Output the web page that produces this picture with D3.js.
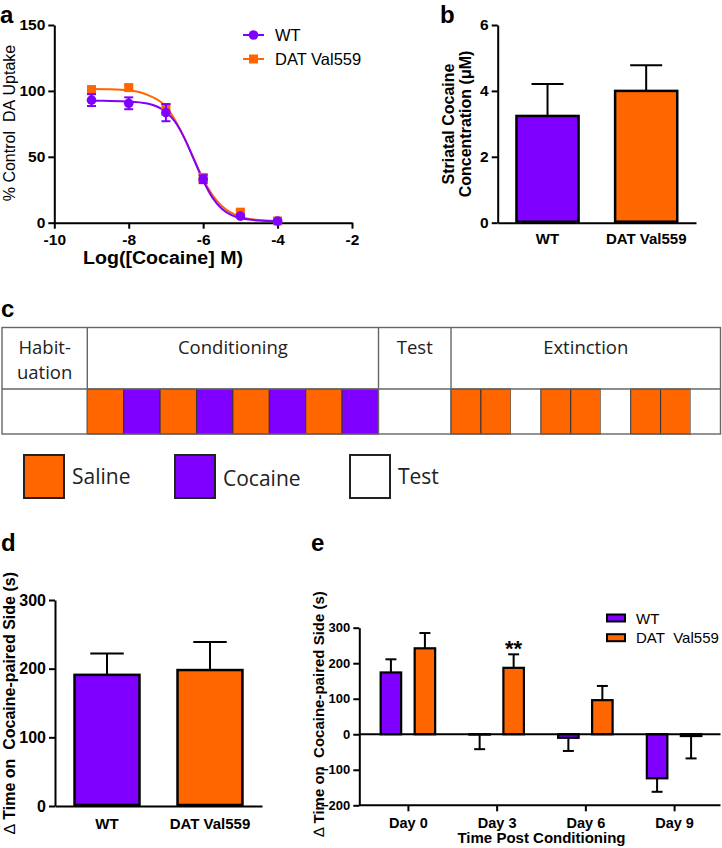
<!DOCTYPE html>
<html><head><meta charset="utf-8">
<script src="https://cdn.jsdelivr.net/npm/d3@7/dist/d3.min.js"></script>
<style>
body{margin:0;background:#fff;}
svg{display:block;}
</style></head>
<body><svg id="c" width="722" height="848"></svg>
<script>
// ---------------- DATA ----------------
const groups = ["WT", "DAT Val559"];
const purple = "#7F00FF", orange = "#FF6600";

// Panel a: dose response
const logDose = [-9, -8, -7, -6, -5, -4];
const wtUptake = [93, 90.6, 83.5, 33, 5, 1.2];
const wtUptakeErr = [4.5, 4.5, 6.5, 3, 1, 0.8];
const datUptake = [101, 102.5, 86, 34, 8, 1.3];
const datUptakeErr = [2, 2, 4, 3, 1.5, 0.8];
// fitted curves
const curveX = [-9, -8.5, -8, -7.5, -7, -6.75, -6.5, -6.25, -6, -5.75, -5.5, -5.25, -5, -4.5, -4];
const wtCurve = [92.5, 92.4, 92, 90.4, 84, 76.4, 64, 48, 32, 19, 10.6, 6, 3.5, 1.6, 1.1];
const datCurve = [101.5, 101.3, 100.5, 97, 88, 77.5, 64, 48.5, 33, 21, 12.7, 7.6, 4.6, 2, 1.3];
const aXTicks = [-10, -8, -6, -4, -2];
const aYTicks = [0, 50, 100, 150];

// Panel b: striatal cocaine concentration
const concMean = [3.24, 4.0];
const concErr = [0.97, 0.78];
const bYTicks = [0, 2, 4, 6];

// Panel c: schedule
const phaseNames = [["Habit-", "uation"], ["Conditioning"], ["Test"], ["Extinction"]];
const phaseSessions = [
  ["Test"],
  ["Saline", "Cocaine", "Saline", "Cocaine", "Saline", "Cocaine", "Saline", "Cocaine"],
  ["Test"],
  ["Saline", "Saline", "Test", "Saline", "Saline", "Test", "Saline", "Saline", "Test"]
];
const sessionTypes = ["Saline", "Cocaine", "Test"];

// Panel d: delta time
const dMean = [191, 198];
const dErr = [31, 41];
const dYTicks = [0, 100, 200, 300];

// Panel e: time course
const days = ["Day 0", "Day 3", "Day 6", "Day 9"];
const eWT = [174, -1, -10, -124];
const eWTErr = [37, 41, 37, 38];
const eDAT = [242, 187, 96, -5];
const eDATErr = [43, 38, 40, 63];
const eYTicks = [-200, -100, 0, 100, 200, 300];
const eSig = ["", "**", "", ""];

// ---------------- DRAWING ----------------
const svg = d3.select("#c");
svg.append("rect").attr("width", 722).attr("height", 848).attr("fill", "#fff");
const ARIAL = "'Liberation Sans', Arial, sans-serif";
const SEGOE = "'Open Sans', 'Noto Sans', sans-serif";
const colorOf = {"WT": purple, "DAT Val559": orange, "Saline": orange, "Cocaine": purple, "Test": "#fff"};
const NB = "\u00A0";

function panelLetter(t, x, y) {
  svg.append("text").attr("x", x).attr("y", y).text(t)
    .attr("font-family", ARIAL).attr("font-weight", "bold").attr("font-size", 24).attr("fill", "#000");
}
function styleAxis(g, fs) {
  g.select(".domain").attr("stroke", "#000").attr("stroke-width", 2);
  g.selectAll(".tick line").attr("stroke", "#000").attr("stroke-width", 2);
  g.selectAll(".tick text").attr("font-family", ARIAL).attr("font-weight", "bold")
    .attr("font-size", fs).attr("fill", "#000");
}
function yTitle(lines, x, y, fs, weight, gap) {
  const t = svg.append("text").attr("transform", `translate(${x},${y}) rotate(-90)`)
    .attr("text-anchor", "middle").attr("font-family", ARIAL).attr("font-weight", weight)
    .attr("font-size", fs).attr("fill", "#000");
  lines.forEach((l, i) => t.append("tspan").attr("x", 0).attr("dy", i === 0 ? 0 : gap).text(l));
  return t;
}

// ===== Panel a =====
{
  const x = d3.scaleLinear().domain([-10, -2]).range([54.3, 352]);
  const y = d3.scaleLinear().domain([0, 150]).range([222.7, 25]);
  panelLetter("a", 0, 23);
  const gy = svg.append("g").attr("transform", `translate(${x.range()[0]},0)`)
    .call(d3.axisLeft(y).tickValues(aYTicks).tickSize(6).tickSizeOuter(0).tickPadding(3));
  styleAxis(gy, 15.5);
  const gx = svg.append("g").attr("transform", `translate(0,${y(0)})`)
    .call(d3.axisBottom(x).tickValues(aXTicks).tickSize(6).tickSizeOuter(0).tickPadding(5).tickFormat(d => (d < 0 ? "-" : "") + Math.abs(d)));
  styleAxis(gx, 15.5);
  svg.append("text").attr("x", 163).attr("y", 264).attr("text-anchor", "middle")
    .attr("font-family", ARIAL).attr("font-weight", "bold").attr("font-size", 18)
    .attr("textLength", 160).attr("lengthAdjust", "spacingAndGlyphs")
    .text("Log([Cocaine] M)");
  yTitle(["%" + NB + "Control" + NB + NB + "DA" + NB + "Uptake"], 15, 123, 16, "normal", 0);

  const line = d3.line().x(d => x(d[0])).y(d => y(d[1])).curve(d3.curveMonotoneX);
  const series = [
    {name: "DAT Val559", c: orange, m: datUptake, e: datUptakeErr, cv: datCurve, shape: "sq"},
    {name: "WT", c: purple, m: wtUptake, e: wtUptakeErr, cv: wtCurve, shape: "ci"}
  ];
  series.forEach(s => {
    svg.append("path").datum(curveX.map((v, i) => [v, s.cv[i]])).attr("d", line)
      .attr("fill", "none").attr("stroke", s.c).attr("stroke-width", 2);
  });
  series.forEach(s => {
    const g = svg.append("g");
    logDose.forEach((d, i) => {
      const cx = x(d), lo = y(s.m[i] - s.e[i]), hi = y(s.m[i] + s.e[i]);
      g.append("line").attr("x1", cx).attr("x2", cx).attr("y1", lo).attr("y2", hi).attr("stroke", s.c).attr("stroke-width", 2);
      [lo, hi].forEach(yy => g.append("line").attr("x1", cx - 4.5).attr("x2", cx + 4.5).attr("y1", yy).attr("y2", yy).attr("stroke", s.c).attr("stroke-width", 2));
      if (s.shape === "sq") g.append("rect").attr("x", cx - 4.5).attr("y", y(s.m[i]) - 4.5).attr("width", 9).attr("height", 9).attr("fill", s.c);
      else g.append("circle").attr("cx", cx).attr("cy", y(s.m[i])).attr("r", 4.8).attr("fill", s.c);
    });
  });
  // legend
  const leg = [{name: "WT", c: purple, shape: "ci"}, {name: "DAT Val559", c: orange, shape: "sq"}];
  leg.forEach((l, i) => {
    const ly = 35 + i * 24;
    svg.append("line").attr("x1", 243).attr("x2", 264).attr("y1", ly).attr("y2", ly).attr("stroke", l.c).attr("stroke-width", 2);
    if (l.shape === "sq") svg.append("rect").attr("x", 249).attr("y", ly - 4.5).attr("width", 9).attr("height", 9).attr("fill", l.c);
    else svg.append("circle").attr("cx", 253.5).attr("cy", ly).attr("r", 4.8).attr("fill", l.c);
    svg.append("text").attr("x", 275).attr("y", ly + 6).text(l.name)
      .attr("font-family", ARIAL).attr("font-size", 16.5).attr("fill", "#000");
  });
}

// ===== generic two-bar panel =====
function twoBar(opts) {
  const x = d3.scaleBand().domain(groups).range(opts.xr).paddingInner(0.35).paddingOuter(0.18);
  const y = d3.scaleLinear().domain(opts.yd).range(opts.yr);
  const gy = svg.append("g").attr("transform", `translate(${opts.xr[0]},0)`)
    .call(d3.axisLeft(y).tickValues(opts.ticks).tickSize(6).tickSizeOuter(0).tickPadding(3).tickFormat(d3.format("d")));
  styleAxis(gy, opts.tfs);
  const gx = svg.append("g").attr("transform", `translate(0,${opts.yr[0]})`)
    .call(d3.axisBottom(x).tickSize(0).tickSizeOuter(0).tickPadding(opts.lp));
  styleAxis(gx, opts.lfs);
  groups.forEach((gname, i) => {
    const bx = x(gname), bw = x.bandwidth(), cx = bx + bw / 2;
    svg.append("line").attr("x1", cx).attr("x2", cx).attr("y1", y(opts.mean[i])).attr("y2", y(opts.mean[i] + opts.err[i]))
      .attr("stroke", "#000").attr("stroke-width", 2);
    svg.append("line").attr("x1", cx - bw / 4).attr("x2", cx + bw / 4)
      .attr("y1", y(opts.mean[i] + opts.err[i])).attr("y2", y(opts.mean[i] + opts.err[i]))
      .attr("stroke", "#000").attr("stroke-width", 2);
    svg.append("rect").attr("x", bx + 1).attr("y", y(opts.mean[i])).attr("width", bw - 2)
      .attr("height", y(0) - y(opts.mean[i]) - 1).attr("fill", colorOf[gname])
      .attr("stroke", "#000").attr("stroke-width", 2.5);
  });
  gx.raise();
}

// ===== Panel b =====
panelLetter("b", 440, 23);
twoBar({xr: [497.7, 696], yd: [0, 6], yr: [222.7, 25], ticks: bYTicks, mean: concMean, err: concErr, tfs: 15.5, lfs: 15, lp: 11});
yTitle(["Striatal" + NB + "Cocaine", "Concentration" + NB + "(\u03BCM)"], 454, 124, 16, "bold", 17);

// ===== Panel c =====
{
  panelLetter("c", 1, 317);
  const edges = [2, 87.3, 378.5, 451, 720.5];
  const top = 327.5, mid = 389, bot = 434;
  const g = svg.append("g");
  phaseSessions.forEach((ses, p) => {
    const sx = d3.scaleBand().domain(d3.range(ses.length)).range([edges[p], edges[p + 1]]);
    ses.forEach((s, i) => {
      g.append("rect").attr("x", sx(i)).attr("y", mid).attr("width", sx.bandwidth()).attr("height", bot - mid)
        .attr("fill", colorOf[s]).attr("stroke", s === "Test" ? "none" : "#333").attr("stroke-width", 1);
    });
    const names = phaseNames[p];
    const cx = (edges[p] + edges[p + 1]) / 2;
    names.forEach((n, k) => {
      g.append("text").attr("x", cx).attr("y", 354 + k * 24.5).attr("text-anchor", "middle").text(n)
        .attr("font-family", SEGOE).attr("font-size", 18.5).attr("fill", "#222");
    });
  });
  // grid lines
  g.append("rect").attr("x", edges[0]).attr("y", top).attr("width", edges[4] - edges[0]).attr("height", bot - top)
    .attr("fill", "none").attr("stroke", "#666").attr("stroke-width", 1.4);
  g.append("line").attr("x1", edges[0]).attr("x2", edges[4]).attr("y1", mid).attr("y2", mid).attr("stroke", "#666").attr("stroke-width", 1.4);
  edges.slice(1, 4).forEach(e => g.append("line").attr("x1", e).attr("x2", e).attr("y1", top).attr("y2", bot).attr("stroke", "#666").attr("stroke-width", 1.4));
  // legend
  const lx = [24, 175, 350];
  sessionTypes.forEach((s, i) => {
    g.append("rect").attr("x", lx[i]).attr("y", 455).attr("width", 40).attr("height", 43)
      .attr("fill", colorOf[s]).attr("stroke", "#222").attr("stroke-width", 2);
    g.append("text").attr("x", lx[i] + 48).attr("y", 484 + (i === 1 ? 1.5 : 0)).text(s)
      .attr("font-family", SEGOE).attr("font-size", 21).attr("fill", "#222");
  });
}

// ===== Panel d =====
panelLetter("d", 1, 551);
twoBar({xr: [55, 262], yd: [0, 300], yr: [806, 600], ticks: dYTicks, mean: dMean, err: dErr, tfs: 16, lfs: 15, lp: 12});
{
  const t = yTitle([""], 15, 703, 16, "bold", 0);
  t.select("tspan").text(null);
  t.append("tspan").attr("font-weight", "normal").text("\u2206" + NB);
  t.append("tspan").text("Time" + NB + "on" + NB + NB + "Cocaine-paired" + NB + "Side" + NB + "(s)");
}

// ===== Panel e =====
{
  panelLetter("e", 311, 551);
  const x = d3.scalePoint().domain(days).range([360, 722]).padding(0.54);
  const y = d3.scaleLinear().domain([-200, 300]).range([805.3, 627.7]);
  const off = 17, bw = 20.5;
  const gy = svg.append("g").attr("transform", `translate(359.3,0)`)
    .call(d3.axisLeft(y).tickValues(eYTicks).tickSize(6).tickSizeOuter(0).tickPadding(3));
  styleAxis(gy, 13);
  const gx = svg.append("g").attr("transform", `translate(0,${y(-200)})`)
    .call(d3.axisBottom(x).tickSize(6).tickSizeOuter(0).tickPadding(6));
  styleAxis(gx, 14.5);
  gx.select(".domain").attr("d", `M359.3,0H720.5`);
  const ser = [{m: eWT, e: eWTErr, c: purple, o: -off}, {m: eDAT, e: eDATErr, c: orange, o: off}];
  ser.forEach(s => {
    days.forEach((d, i) => {
      const cx = x(d) + s.o, v = s.m[i], ev = v >= 0 ? v + s.e[i] : v - s.e[i];
      svg.append("line").attr("x1", cx).attr("x2", cx).attr("y1", y(v)).attr("y2", y(ev)).attr("stroke", "#000").attr("stroke-width", 2);
      svg.append("line").attr("x1", cx - 5.5).attr("x2", cx + 5.5).attr("y1", y(ev)).attr("y2", y(ev)).attr("stroke", "#000").attr("stroke-width", 2);
      svg.append("rect").attr("x", cx - bw / 2).attr("y", Math.min(y(v), y(0))).attr("width", bw)
        .attr("height", Math.abs(y(v) - y(0))).attr("fill", s.c).attr("stroke", "#000").attr("stroke-width", 2.2);
    });
  });
  svg.append("line").attr("x1", 359.3).attr("x2", 720.5).attr("y1", y(0)).attr("y2", y(0)).attr("stroke", "#000").attr("stroke-width", 2);
  days.forEach((d, i) => {
    if (eSig[i]) svg.append("text").attr("x", x(d) + off).attr("y", y(eDAT[i] + eDATErr[i]) + 1.5).attr("text-anchor", "middle")
      .text(eSig[i]).attr("font-family", ARIAL).attr("font-weight", "bold").attr("font-size", 22);
  });
  svg.append("text").attr("x", 541.5).attr("y", 843).attr("text-anchor", "middle")
    .attr("font-family", ARIAL).attr("font-weight", "bold").attr("font-size", 15).text("Time Post Conditioning");
  const t = yTitle([""], 324, 714, 15, "bold", 0);
  t.select("tspan").text(null);
  t.append("tspan").attr("font-weight", "normal").text("\u2206" + NB);
  t.append("tspan").text("Time" + NB + "on" + NB + NB + "Cocaine-paired" + NB + "Side" + NB + "(s)");
  // legend
  const legNames = ["WT", "DAT" + NB + NB + "Val559"];
  [purple, orange].forEach((c, i) => {
    const ly = 618 + i * 19.7;
    svg.append("rect").attr("x", 607).attr("y", ly - 3.5).attr("width", 18).attr("height", 7)
      .attr("fill", c).attr("stroke", "#000").attr("stroke-width", 2);
    svg.append("text").attr("x", 636).attr("y", ly + 5.5).text(legNames[i])
      .attr("font-family", ARIAL).attr("font-size", 15).attr("fill", "#000");
  });
}
</script></body></html>
